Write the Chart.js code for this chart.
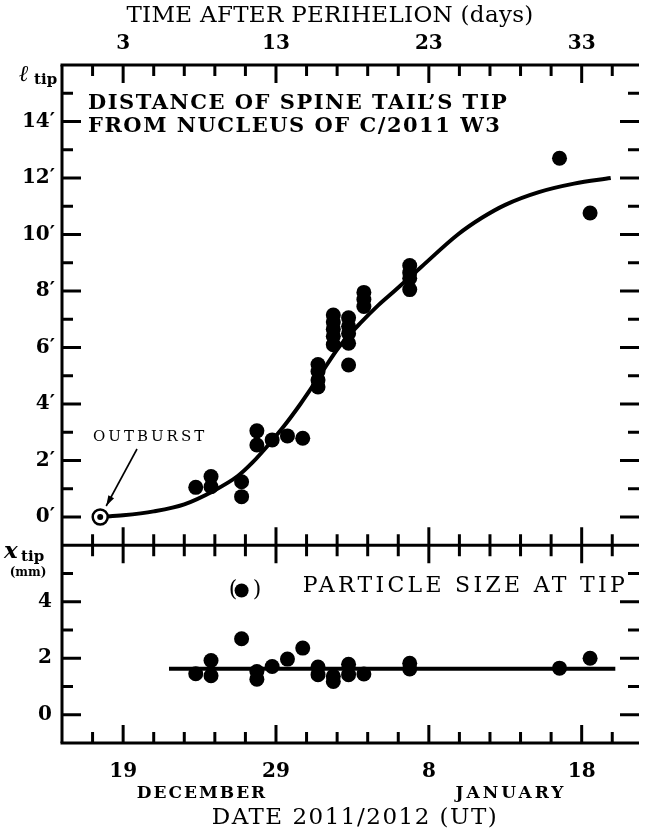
<!DOCTYPE html>
<html>
<head>
<meta charset="utf-8">
<script src="https://cdn.jsdelivr.net/npm/chart.js@4.4.1/dist/chart.umd.min.js"></script>
<style>
  html, body { margin: 0; padding: 0; background: #fff; overflow: hidden; }
</style>
</head>
<body>
<canvas id="c" width="649" height="834"></canvas>
<script>
// time axis = days after perihelion (Dec 19 = day 3)
const xLabelValues = [3, 13, 23, 33];
const xTicksTop = ['3', '13', '23', '33'];
const xTicksDate = ['19', '29', '8', '18'];
const yTopLabels = [0, 2, 4, 6, 8, 10, 12, 14];
const yBotLabels = [0, 2, 4];

// upper panel: distance of the tip (arcmin)
const distTime = [7.75, 8.75, 8.75, 10.75, 10.75, 11.75, 11.75, 12.75, 13.75, 14.75,
    15.75, 15.75, 15.75, 15.75,
    16.75, 16.75, 16.75, 16.75, 16.75,
    17.75, 17.75, 17.75, 17.75, 17.75,
    18.75, 18.75, 18.75,
    21.75, 21.75, 21.75, 21.75,
    31.55, 33.55];
const distValue = [1.05, 1.43, 1.07, 1.25, 0.72, 3.05, 2.55, 2.73, 2.87, 2.79,
    5.4, 5.15, 4.85, 4.6,
    7.15, 6.9, 6.65, 6.4, 6.1,
    7.05, 6.75, 6.5, 6.15, 5.38,
    7.95, 7.7, 7.45,
    8.9, 8.65, 8.45, 8.05,
    12.7, 10.76];

// fitted curve
const curveTime = [1.5, 3, 5, 7, 9, 10.5, 11.5, 12.5, 13.5, 14.6, 15.8, 17.1, 18.5, 19.7,
    20.75, 22.5, 24.9, 26.5, 28.0, 30.2, 32.5, 34.9];
const curveValue = [0, 0.06, 0.2, 0.45, 0.95, 1.45, 1.95, 2.55, 3.2, 4.0, 4.95, 6.0, 6.85, 7.5,
    8.0, 8.85, 10.0, 10.6, 11.05, 11.5, 11.8, 12.0];

const outburstTime = [1.5];
const outburstValue = [0];

// lower panel: particle size at tip (mm)
const sizeTime = [7.75, 8.75, 8.75, 10.75, 11.75, 11.75, 12.75, 13.75, 14.75, 15.75,
    15.75, 16.75, 16.75, 17.75, 17.75, 18.75, 21.75, 21.75, 31.55, 33.55];
const sizeValue = [1.45, 1.92, 1.38, 2.69, 1.53, 1.26, 1.71, 1.97, 2.36, 1.69,
    1.42, 1.36, 1.18, 1.79, 1.42, 1.44, 1.82, 1.62, 1.65, 2.0];
const sizeOutlierTime = [10.75];
const sizeOutlierValue = [4.4];
const sizeMeanTime = [6.0, 35.2];
const sizeMeanValue = [1.63, 1.63];

const pts = (xs, ys) => xs.map((x, i) => ({ x: x, y: ys[i] }));
const SERIF = '"DejaVu Serif", serif';

function text(ctx, str, x, y, font, align, spacing) {
    ctx.font = font;
    ctx.textAlign = align || 'left';
    ctx.letterSpacing = (spacing || 0) + 'px';
    ctx.fillText(str, x, y);
    ctx.letterSpacing = '0px';
}

const frame = {
    id: 'frame',
    afterDraw(chart) {
        const { ctx, chartArea: a, scales } = chart;
        const x = scales.x, yt = scales.yTop, yb = scales.yBot;
        const mid = yt.bottom;
        const seg = (x1, y1, x2, y2) => { ctx.beginPath(); ctx.moveTo(x1, y1); ctx.lineTo(x2, y2); ctx.stroke(); };
        ctx.save();
        ctx.strokeStyle = '#000';
        ctx.fillStyle = '#000';
        ctx.lineWidth = 3;
        ctx.lineCap = 'butt';
        seg(a.left - 1.5, a.top, a.right, a.top);
        seg(a.left - 1.5, a.bottom, a.right, a.bottom);
        seg(a.left, a.top, a.left, a.bottom);
        seg(a.left, mid, a.right, mid);

        // minor ticks every 2 days, major at the labelled days
        for (let v = 1; v < x.max; v += 2) {
            const px = x.getPixelForValue(v);
            const len = xLabelValues.includes(v) ? 18 : 11;
            seg(px, a.top, px, a.top + len);
            seg(px, mid, px, mid - len);
            seg(px, mid, px, mid + len);
            seg(px, a.bottom, px, a.bottom - len);
        }
        [yt, yb].forEach(s => {
            for (let v = s.min + 1; v < s.max; v++) {
                const py = s.getPixelForValue(v);
                const len = (v % 2 === 0) ? 19 : 11;
                seg(a.left, py, a.left + len, py);
                seg(a.right, py, a.right - len, py);
            }
        });

        ctx.textBaseline = 'middle';
        // y tick labels
        yTopLabels.forEach(v => text(ctx, v + '\u2032', 55, yt.getPixelForValue(v), 'bold 20px ' + SERIF, 'right'));
        yBotLabels.forEach(v => text(ctx, String(v), 52, yb.getPixelForValue(v), 'bold 20px ' + SERIF, 'right'));

        // titles
        text(ctx, 'TIME AFTER PERIHELION (days)', 330, 16, '23px ' + SERIF, 'center', 0.3);
        text(ctx, 'DATE 2011/2012 (UT)', 355, 818, '23px ' + SERIF, 'center', 1.5);
        text(ctx, 'DECEMBER', 202, 794, 'bold 17px ' + SERIF, 'center', 2);
        text(ctx, 'JANUARY', 511, 794, 'bold 17px ' + SERIF, 'center', 3);
        text(ctx, 'DISTANCE OF SPINE TAIL\u2019S TIP', 88, 104, 'bold 21px ' + SERIF, 'left', 1.5);
        text(ctx, 'FROM NUCLEUS OF C/2011 W3', 88, 127, 'bold 21px ' + SERIF, 'left', 1.5);
        text(ctx, 'PARTICLE SIZE AT TIP', 628, 586, '22px ' + SERIF, 'right', 3.3);
        text(ctx, '(', 233, 590, '22px ' + SERIF, 'center');
        text(ctx, ')', 257, 590, '22px ' + SERIF, 'center');

        // axis symbols
        text(ctx, '\u2113', 19, 75, 'bold italic 23px ' + SERIF, 'left');
        text(ctx, 'tip', 34, 80, 'bold 15px ' + SERIF, 'left');
        text(ctx, 'x', 4, 552, 'bold italic 23px ' + SERIF, 'left');
        text(ctx, 'tip', 21, 557, 'bold 15px ' + SERIF, 'left');
        text(ctx, '(mm)', 28, 573, 'bold 12px ' + SERIF, 'center');

        // outburst label and arrow
        text(ctx, 'OUTBURST', 93, 437, '15px ' + SERIF, 'left', 3);
        const ox = x.getPixelForValue(outburstTime[0]);
        const oy = yt.getPixelForValue(outburstValue[0]);
        const sx = 137, sy = 449, ex = ox + 6, ey = oy - 11;
        ctx.lineWidth = 1.6;
        seg(sx, sy, ex, ey);
        const ang = Math.atan2(ey - sy, ex - sx);
        ctx.beginPath();
        ctx.moveTo(ex, ey);
        ctx.lineTo(ex - 11 * Math.cos(ang - 0.3), ey - 11 * Math.sin(ang - 0.3));
        ctx.lineTo(ex - 11 * Math.cos(ang + 0.3), ey - 11 * Math.sin(ang + 0.3));
        ctx.closePath();
        ctx.fill();
        ctx.restore();
    }
};

const tickFont = { family: SERIF, size: 20, weight: 'bold' };
const noPad = s => { s.paddingLeft = 0; s.paddingRight = 0; s.paddingTop = 0; s.paddingBottom = 0; };
const labelTicks = s => { s.ticks = xLabelValues.map(v => ({ value: v })); };

new Chart(document.getElementById('c'), {
    type: 'scatter',
    data: {
        datasets: [
            {
                data: pts(curveTime, curveValue), yAxisID: 'yTop', showLine: true,
                borderColor: '#000', borderWidth: 4, pointRadius: 0,
                cubicInterpolationMode: 'monotone', order: 3
            },
            {
                data: pts(distTime, distValue), yAxisID: 'yTop',
                backgroundColor: '#000', borderWidth: 0, pointRadius: 7.5, order: 2
            },
            {
                // outburst: open circle with a central dot
                data: pts(outburstTime, outburstValue), yAxisID: 'yTop',
                backgroundColor: '#fff', borderColor: '#000', borderWidth: 2.5, pointRadius: 7.5, order: 1
            },
            {
                data: pts(outburstTime, outburstValue), yAxisID: 'yTop',
                backgroundColor: '#000', borderWidth: 0, pointRadius: 3, order: 0
            },
            {
                data: pts(sizeMeanTime, sizeMeanValue), yAxisID: 'yBot', showLine: true,
                borderColor: '#000', borderWidth: 4, pointRadius: 0, order: 3
            },
            {
                data: pts(sizeTime, sizeValue), yAxisID: 'yBot',
                backgroundColor: '#000', borderWidth: 0, pointRadius: 7.5, order: 2
            },
            {
                data: pts(sizeOutlierTime, sizeOutlierValue), yAxisID: 'yBot',
                backgroundColor: '#000', borderWidth: 0, pointRadius: 7, order: 2
            }
        ]
    },
    options: {
        responsive: false,
        devicePixelRatio: 1,
        animation: false,
        layout: { padding: 0 },
        plugins: { legend: { display: false }, tooltip: { enabled: false } },
        scales: {
            x: {
                type: 'linear', position: 'bottom', min: -1, max: 36.75,
                grid: { display: false, drawTicks: false }, border: { display: false },
                afterBuildTicks: labelTicks,
                ticks: {
                    autoSkip: false, maxRotation: 0, padding: 17,
                    color: '#000', font: tickFont,
                    callback: v => xTicksDate[xLabelValues.indexOf(v)] || ''
                },
                afterFit: s => { s.height = 91; noPad(s); }
            },
            xTop: {
                type: 'linear', position: 'top', min: -1, max: 36.75,
                grid: { display: false, drawTicks: false }, border: { display: false },
                afterBuildTicks: labelTicks,
                ticks: {
                    autoSkip: false, maxRotation: 0, padding: 9,
                    color: '#000', font: tickFont,
                    callback: v => xTicksTop[xLabelValues.indexOf(v)] || ''
                },
                afterFit: s => { s.height = 65; noPad(s); }
            },
            yBot: {
                type: 'linear', position: 'left', stack: 'panels', stackWeight: 7,
                min: -1, max: 6,
                grid: { display: false, drawTicks: false }, border: { display: false },
                ticks: { display: false, stepSize: 1 },
                afterFit: s => { s.width = 62; noPad(s); }
            },
            yTop: {
                type: 'linear', position: 'left', stack: 'panels', stackWeight: 17,
                min: -1, max: 16,
                grid: { display: false, drawTicks: false }, border: { display: false },
                ticks: { display: false, stepSize: 1 },
                afterFit: s => { s.width = 62; noPad(s); }
            }
        }
    },
    plugins: [frame]
});
</script>
</body>
</html>
